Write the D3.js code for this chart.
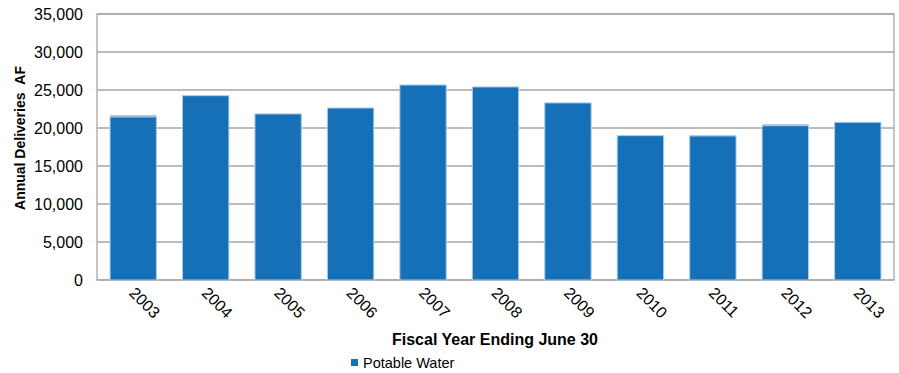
<!DOCTYPE html>
<html><head><meta charset="utf-8">
<script src="https://cdn.jsdelivr.net/npm/d3@7"></script>
<style>body{margin:0;background:#fff;} text{font-family:"Liberation Sans",Arial,sans-serif;fill:#000;}</style>
</head><body><svg id="c" width="899" height="373"></svg>
<script>
const years = ["2003","2004","2005","2006","2007","2008","2009","2010","2011","2012","2013"];
const potable = [21450,24250,21850,22630,25660,25400,23300,18990,18950,20300,20750];
const minor = [250,0,0,0,0,0,0,0,80,200,0];
const yTicks = [0,5000,10000,15000,20000,25000,30000,35000];

const svg = d3.select("#c");
const m = {l:97, r:894, t:14, b:280};
const x = d3.scaleBand().domain(years).range([m.l, m.r]).paddingInner(0.36).paddingOuter(0.18);
const y = d3.scaleLinear().domain([0,35000]).range([m.b, m.t]);

// gridlines
svg.append("g").selectAll("line").data(yTicks).join("line")
  .attr("x1", m.l).attr("x2", m.r).attr("y1", d=>y(d)).attr("y2", d=>y(d))
  .attr("stroke", "#a6a6a6").attr("stroke-width", 1.3);
// plot border
svg.append("rect").attr("x", m.l).attr("y", m.t).attr("width", m.r-m.l).attr("height", m.b-m.t)
  .attr("fill","none").attr("stroke","#a6a6a6").attr("stroke-width",1.3);

// bars
svg.append("g").selectAll("rect").data(years).join("rect")
  .attr("x", d=>x(d)).attr("width", x.bandwidth())
  .attr("y", (d,i)=>y(potable[i])).attr("height", (d,i)=>y(0)-y(potable[i]))
  .attr("fill", "#1570b8").attr("stroke", "#a9cbe9").attr("stroke-width", 1);
svg.append("g").selectAll("rect").data(years.filter((d,i)=>minor[i]>0)).join("rect")
  .attr("x", d=>x(d)).attr("width", x.bandwidth())
  .attr("y", d=>{const i=years.indexOf(d); return y(potable[i]+minor[i]);})
  .attr("height", d=>{const i=years.indexOf(d); return y(potable[i])-y(potable[i]+minor[i]);})
  .attr("fill", "#9dc3e6");

// y axis
const yAxis = d3.axisLeft(y).tickValues(yTicks).tickSize(0).tickPadding(14).tickFormat(d3.format(","));
const ga = svg.append("g").attr("transform", `translate(${m.l},0)`).call(yAxis);
ga.select(".domain").remove();
ga.selectAll("text").style("font-size","16px").style("font-family",'"Liberation Sans",Arial,sans-serif');

// x axis labels
const xAxis = d3.axisBottom(x).tickSize(0).tickPadding(0);
const gx = svg.append("g").attr("transform", `translate(0,${m.b})`).call(xAxis);
gx.select(".domain").remove();
gx.selectAll("text")
  .style("font-size","16px").style("font-family",'"Liberation Sans",Arial,sans-serif')
  .attr("text-anchor","start").attr("dy",null).attr("y",0)
  .attr("transform","translate(-5,14) rotate(45)");

// titles
svg.append("text").attr("x", 495).attr("y", 345).attr("text-anchor","middle")
  .style("font-size","16px").style("font-weight","bold").text("Fiscal Year Ending June 30");
svg.append("text").attr("transform","translate(25,138) rotate(-90)").attr("text-anchor","middle")
  .style("font-size","14px").style("font-weight","bold").text("Annual Deliveries\u00a0\u00a0AF");

// legend
svg.append("rect").attr("x", 351).attr("y", 359).attr("width", 7).attr("height", 7).attr("fill","#1570b8");
svg.append("text").attr("x", 363).attr("y", 368).style("font-size","14.5px").text("Potable Water");
</script></body></html>
